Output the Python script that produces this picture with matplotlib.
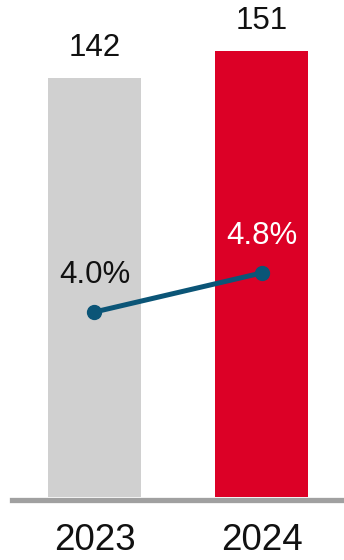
import matplotlib.pyplot as plt

plt.rcParams['font.family'] = ['Liberation Sans', 'DejaVu Sans']

# Values per year
years = ["2023", "2024"]
totals = [142, 151]
rates = [4.0, 4.8]

bar_colors = ["#D0D0D0", "#DC0026"]
rate_text_colors = ["#111111", "white"]

fig = plt.figure(figsize=(3.44, 5.6), dpi=100)
ax = fig.add_axes([12 / 344, 63 / 560, 332 / 344, 497 / 560])
x = list(range(len(years)))

ax.bar(x, totals, width=0.557, color=bar_colors, zorder=2)
ax.set_xlim(-0.494, 1.494)
ax.set_ylim(0, 168.4)

# totals above the bars
for xi, v in zip(x, totals):
    ax.annotate(str(v), (xi, v), xytext=(0, 11), textcoords="offset points",
                ha="center", va="bottom", fontsize=22.5, color="#111111")

# gray baseline
ax.axhline(-0.85, color="#A0A0A0", linewidth=3.8, zorder=1, clip_on=False)

for s in ax.spines.values():
    s.set_visible(False)
ax.set_yticks([])
ax.set_xticks(x)
ax.set_xticklabels(years, fontsize=26.5, color="#111111")
ax.tick_params(axis="x", length=0, pad=19)

# rate line on a secondary scale
ax2 = ax.twinx()
ax2.set_ylim(0.205, 10.4)
ax2.plot(x, rates, color="#0B5577", linewidth=3.6, marker="o",
         markersize=10, zorder=3)
for xi, v, c in zip(x, rates, rate_text_colors):
    ax2.annotate(f"{v:.1f}%", (xi, v), xytext=(0, 16), textcoords="offset points",
                 ha="center", va="bottom", fontsize=22.5, color=c)
ax2.set_yticks([])
for s in ax2.spines.values():
    s.set_visible(False)

fig.savefig("out.png", dpi=100)
